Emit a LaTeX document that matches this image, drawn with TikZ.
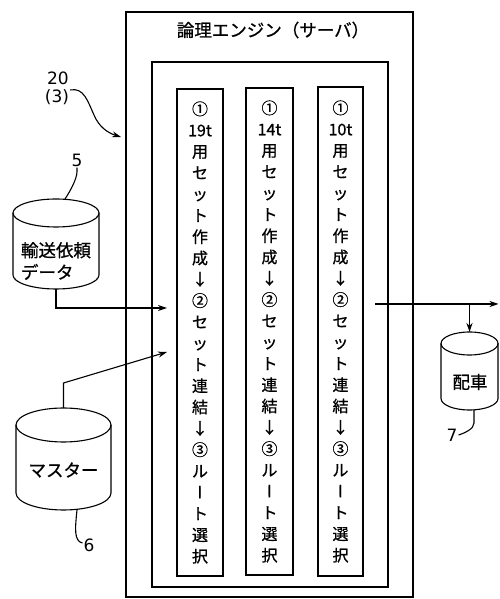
\documentclass[tikz,border=0pt]{standalone}
\usepackage{fontspec}
\setmainfont{DejaVu Sans}
\newfontfamily\jp[FakeBold=0.8]{Noto Sans CJK JP}
\newfontfamily\jpv[FakeBold=0.8,RawFeature=+vert]{Noto Sans CJK JP}
\usetikzlibrary{arrows.meta}
\newcommand\cylshape[3]{%
  \draw[ln] ([yshift=-#3]#1.north) ellipse[x radius=#2, y radius=#3];
  \draw[ln] ([yshift=-#3]#1.north west) -- ([yshift=#3]#1.south west)
     arc[start angle=180, end angle=360, x radius=#2, y radius=#3]
     -- ([yshift=-#3]#1.north east);}
\begin{document}
\begin{tikzpicture}[x=1pt,y=1pt,
  box/.style={draw, line width=1.3pt, inner sep=0pt, outer sep=0pt},
  colbox/.style={box, font=\jp\fontsize{16}{21.3}\selectfont, align=center},
  cylarea/.style={inner sep=0pt, outer sep=0pt},
  ln/.style={line width=1.1pt},
  arr/.style={ln, -{Stealth[length=9pt,width=6pt]}},
  num/.style={font=\fontsize{17}{17}\selectfont, inner sep=1pt},
  jptext/.style={font=\jp\fontsize{17.5}{22}\selectfont, inner sep=0pt}]
\useasboundingbox (0,0) rectangle (499,599);
% engine
\node[box, minimum width=287pt, minimum height=585pt] (engine) at (269.5,294.5) {};
\node[jptext] (title) at (273,569) {論理エンジン（サーバ）};
\node[box, minimum width=236pt, minimum height=525pt] (inner) at (270,274.5) {};
\node[colbox, minimum width=46pt, minimum height=487pt] (c1) at (200,266.5)
  {①\\19t\\用\\セ\\ッ\\ト\\作\\成\\↓\\②\\セ\\ッ\\ト\\連\\結\\↓\\③\\ル\\{\jpv ー}\\ト\\選\\択};
\node[colbox, minimum width=47pt, minimum height=487pt] (c2) at (269.5,267.5)
  {①\\14t\\用\\セ\\ッ\\ト\\作\\成\\↓\\②\\セ\\ッ\\ト\\連\\結\\↓\\③\\ル\\{\jpv ー}\\ト\\選\\択};
\node[colbox, minimum width=45pt, minimum height=489pt] (c3) at (340.5,267.5)
  {①\\10t\\用\\セ\\ッ\\ト\\作\\成\\↓\\②\\セ\\ッ\\ト\\連\\結\\↓\\③\\ル\\{\jpv ー}\\ト\\選\\択};
% databases
\node[cylarea, minimum width=86pt, minimum height=90pt] (d5) at (56,355) {};
\cylshape{d5}{43pt}{14pt}
\node[jptext, align=left] (d5t) at (56,338) {輸送依頼\\データ};
\node[cylarea, minimum width=95pt, minimum height=102pt] (d6) at (63.5,140) {};
\cylshape{d6}{47.5pt}{17pt}
\node[jptext] (d6t) at (63.5,129) {マスター};
\node[cylarea, minimum width=57pt, minimum height=78pt] (d7) at (469.5,228) {};
\cylshape{d7}{28.5pt}{11.5pt}
\node[jptext] (d7t) at (470,217) {配車};
% labels
\node[num] (l20) at (58,521) {20};
\node[num] (l3) at (57,502) {(3)};
\node[num] (l5) at (77,439) {5};
\node[num] (l6) at (89,54) {6};
\node[num] (l7) at (452,164) {7};
% leaders
\draw[ln] (l5.south) -- ++(0,-4) .. controls +(0,-8) and +(4,6) .. ([xshift=9pt]d5.north);
\draw[ln] ([xshift=13.5pt]d6.south) .. controls (75,70) and (74,58) .. ([yshift=2pt]l6.west);
\draw[ln] ([xshift=4.5pt]d7.south) -- ++(0,-13) .. controls +(0,-6) and +(6,2) .. (l7.east);
\coordinate (e20) at (121,462);
\draw[arr] ([yshift=7pt]l3.east) .. controls (84,512) and (88,497) .. (94,484)
   .. controls (99,472) and (108,466) .. (e20);
% connectors
\coordinate (in5) at (167,291);
\draw[arr] (d5.south) |- (in5);
\coordinate (k6) at (63.5,216);
\coordinate (in6) at (167,247);
\draw[arr] (d6.north) -- (k6) -- (in6);
\coordinate (out0) at (375,295);
\coordinate (outE) at (498.5,295);
\draw[arr] (out0) -- (outE);
\draw[arr] (d7.north |- out0) -- (d7.north);
\end{tikzpicture}
\end{document}
